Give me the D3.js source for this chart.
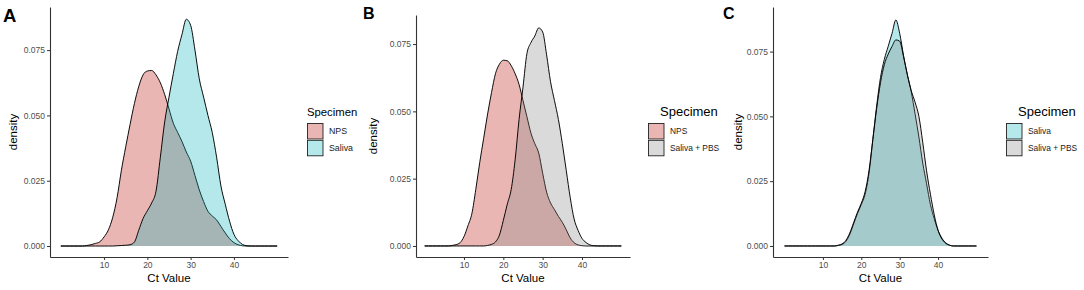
<!DOCTYPE html>
<meta charset="utf-8">
<style>
body { margin: 0; background: #fff; }
text { font-family: "Liberation Sans", Arial, sans-serif; }
.tick text { font-size: 8.5px; fill: #4d4d4d; }
.axisTitle { font-size: 11.5px; fill: #000; }
.panelLabel { font-weight: bold; fill: #000; }
.legendTitle { fill: #000; }
.legendLabel { fill: #1a1a1a; }
.curve { fill: none; stroke: #000; stroke-width: 0.95px; }
</style>
<body>
<script src="https://d3js.org/d3.v7.min.js"></script>
<script>

const ctValues = [0,1,2,3,4,5,6,7,8,9,10,11,12,13,14,15,16,17,18,19,20,21,22,23,24,25,
                  26,27,28,29,30,31,32,33,34,35,36,37,38,39,40,41,42,43,44,45,46,47,48,49,50];

const xTicks = [10, 20, 30, 40],
      yTicks = [0, 0.025, 0.05, 0.075];

// densities, one value per Ct unit
const npsA = [0,0,0,0,0,0,0.0002,0.0005,0.001,0.0016,0.0035,0.0062,0.011,0.0185,0.029,0.038,
              0.0465,0.0545,0.061,0.0655,0.067,0.0672,0.0655,0.0625,0.058,0.0525,0.047,0.0435,
              0.040,0.036,0.0325,0.027,0.0215,0.017,0.0133,0.0115,0.0100,0.0075,0.005,0.0028,
              0.0013,0.0005,0.0001,0,0,0,0,0,0,0,0];
const salivaA = [0,0,0,0,0,0,0,0,0,0,0,0,0,0.0001,0.0002,0.0003,0.0005,0.0015,0.006,0.0105,
                 0.0135,0.0165,0.021,0.034,0.0475,0.057,0.066,0.0745,0.081,0.0868,0.0845,0.075,
                 0.064,0.057,0.050,0.0434,0.034,0.023,0.016,0.0095,0.0045,0.002,0.0006,0.0001,
                 0,0,0,0,0,0,0];
const npsB = [0,0,0,0,0,0,0,0.0002,0.0005,0.0012,0.0035,0.0075,0.012,0.021,0.031,0.040,0.049,
              0.057,0.064,0.0675,0.069,0.0688,0.067,0.064,0.060,0.054,0.048,0.042,0.038,0.0345,
              0.027,0.020,0.016,0.0135,0.011,0.0088,0.006,0.003,0.0012,0.0004,0.0001,
              0,0,0,0,0,0,0,0,0,0];
const pbsB = [0,0,0,0,0,0,0,0,0,0,0,0,0,0,0,0,0.0002,0.0006,0.0015,0.004,0.0095,0.0155,0.021,
              0.032,0.047,0.059,0.0715,0.0755,0.078,0.081,0.0795,0.071,0.061,0.054,0.047,0.038,
              0.028,0.018,0.010,0.0058,0.0028,0.0013,0.0004,0.0001,0,0,0,0,0,0,0];
const salivaC = [0,0,0,0,0,0,0,0,0,0,0,0,0,0,0.0002,0.0006,0.0018,0.0045,0.0085,0.0125,0.016,
                 0.020,0.028,0.041,0.054,0.065,0.072,0.077,0.082,0.0872,0.082,0.0735,0.066,0.0595,
                 0.051,0.042,0.032,0.024,0.016,0.0105,0.006,0.003,0.0012,0.0003,0,0,0,0,0,0,0];
const pbsC = [0,0,0,0,0,0,0,0,0,0,0,0,0,0,0.0003,0.0008,0.0022,0.005,0.009,0.013,0.0165,0.021,
              0.029,0.041,0.053,0.063,0.070,0.074,0.077,0.0795,0.079,0.073,0.066,0.060,0.0555,
              0.050,0.040,0.029,0.020,0.012,0.006,0.0027,0.001,0.0003,0,0,0,0,0,0,0];

const fills = {
  "NPS":          {color: "rgb(213,109,103)", opacity: 0.5},
  "Saliva":       {color: "rgb(5,178,188)",   opacity: 0.3},
  "Saliva + PBS": {color: "#858585",          opacity: 0.3}
};

const panels = [
  {label: "A", labelSize: 18.5, labelY: 21.5, ox: 0,
   x0: 50, x1: 288, xDom: [-2.5, 52.5], yTop: 7, yDom: [-0.0042, 0.0915], ylabX: 13,
   legX: 307, titleX: 307, titleSize: 11.3, itemSize: 8.8,
   series: [["NPS", npsA], ["Saliva", salivaA]]},
  {label: "B", labelSize: 16, labelY: 18.5, ox: 360,
   x0: 416, x1: 630, xDom: [-2.2, 52.2], yTop: 15, yDom: [-0.0041, 0.0858], ylabX: 373,
   legX: 648, titleX: 660, titleSize: 13, itemSize: 8.4,
   series: [["NPS", npsB], ["Saliva + PBS", pbsB]]},
  {label: "C", labelSize: 16, labelY: 18.5, ox: 720,
   x0: 773, x1: 988, xDom: [-3, 53], yTop: 7, yDom: [-0.00425, 0.0922], ylabX: 738,
   legX: 1006, titleX: 1018, titleSize: 13, itemSize: 8.4,
   series: [["Saliva", salivaC], ["Saliva + PBS", pbsC]]}
];

const width = 1084, height = 290, yBottom = 257;

const svg = d3.select("body").append("svg")
    .attr("width", width)
    .attr("height", height);

panels.forEach(p => {
  const g = svg.append("g");

  const x = d3.scaleLinear().domain(p.xDom).range([p.x0, p.x1]),
        y = d3.scaleLinear().domain(p.yDom).range([yBottom, p.yTop]);

  const area = d3.area()
      .x((d, i) => x(ctValues[i]))
      .y0(y(0))
      .y1(d => y(d))
      .curve(d3.curveMonotoneX);
  const line = area.lineY1();

  p.series.forEach(([name, vals]) => {
    g.append("path")
        .datum(vals)
        .attr("d", area)
        .attr("fill", fills[name].color)
        .attr("fill-opacity", fills[name].opacity);
    g.append("path")
        .datum(vals)
        .attr("class", "curve")
        .attr("d", line);
  });

  // axes
  const xAxis = g.append("g")
      .attr("transform", `translate(0,${yBottom})`)
      .call(d3.axisBottom(x).tickValues(xTicks).tickSize(3).tickSizeOuter(0).tickPadding(2));
  const yAxis = g.append("g")
      .attr("transform", `translate(${p.x0},0)`)
      .call(d3.axisLeft(y).tickValues(yTicks).tickFormat(d3.format(".3f"))
              .tickSize(3).tickSizeOuter(0).tickPadding(2));
  [xAxis, yAxis].forEach(a => {
    a.select(".domain").attr("stroke", "#333").attr("stroke-width", 1.1);
    a.selectAll(".tick line").attr("stroke", "#333").attr("stroke-width", 1);
    a.selectAll(".tick text").attr("font-family", null).attr("font-size", null).attr("fill", "#4d4d4d");
  });

  g.append("text")
      .attr("class", "axisTitle")
      .attr("x", (p.x0 + p.x1) / 2)
      .attr("y", 282)
      .attr("text-anchor", "middle")
      .text("Ct Value");

  g.append("text")
      .attr("class", "axisTitle")
      .attr("transform", `translate(${p.ylabX + 4},${(yBottom + p.yTop) / 2}) rotate(-90)`)
      .attr("text-anchor", "middle")
      .text("density");

  g.append("text")
      .attr("class", "panelLabel")
      .attr("x", p.ox + 3)
      .attr("y", p.labelY)
      .style("font-size", p.labelSize + "px")
      .text(p.label);

  // legend
  g.append("text")
      .attr("class", "legendTitle")
      .attr("x", p.titleX)
      .attr("y", 116)
      .style("font-size", p.titleSize + "px")
      .text("Specimen");

  const items = g.selectAll(".legItem")
    .data(p.series.map(s => s[0]))
    .join("g")
      .attr("class", "legItem")
      .attr("transform", (d, i) => `translate(${p.legX},${123 + i * 16.8})`);

  items.append("rect")
      .attr("width", 16)
      .attr("height", 16)
      .attr("fill", "#fff");
  items.append("rect")
      .attr("x", 0.5)
      .attr("y", 0.5)
      .attr("width", 15.5)
      .attr("height", 15.5)
      .attr("fill", d => fills[d].color)
      .attr("fill-opacity", d => fills[d].opacity)
      .attr("stroke", "#222")
      .attr("stroke-width", 0.9);
  items.append("text")
      .attr("class", "legendLabel")
      .attr("x", 22)
      .attr("y", 8.3)
      .attr("dy", "0.35em")
      .style("font-size", p.itemSize + "px")
      .text(d => d);
});

</script>
